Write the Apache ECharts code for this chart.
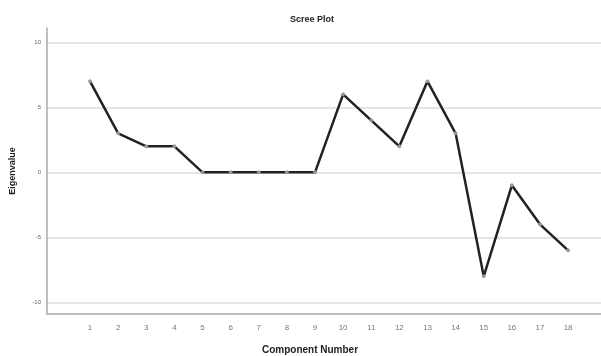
<!DOCTYPE html>
<html>
<head>
<meta charset="utf-8">
<script src="https://cdn.jsdelivr.net/npm/echarts@6/dist/echarts.min.js"></script>
<style>html,body{margin:0;padding:0;background:#fff;}#c{width:601px;height:356px;}</style>
</head>
<body>
<div id="c"></div>
<script>
const components = [1,2,3,4,5,6,7,8,9,10,11,12,13,14,15,16,17,18];
const eigenvalues = [7,3,2,2,0,0,0,0,0,6,4,2,7,3,-8,-1,-4,-6];
const yTicks = [-10,-5,0,5,10];

const chart = echarts.init(document.getElementById('c'), null, {renderer:'canvas'});
chart.setOption({
  animation: false,
  backgroundColor: '#fff',
  title: {
    text: 'Scree Plot', left: 307, top: 10, textAlign: 'center',
    textStyle: {fontFamily: 'Liberation Sans', fontSize: 9, fontWeight: 'bold', color: '#222'}
  },
  grid: {left: 47, right: 0, top: 28, bottom: 42, outerBoundsMode: 'none', containLabel: false},
  xAxis: {
    type: 'value', min: -0.53, max: 19.17,
    name: 'Component Number', nameLocation: 'middle', nameGap: 31,
    nameTextStyle: {fontFamily: 'Liberation Sans', fontSize: 10, fontWeight: 'bold', color: '#222', padding: [0, 28, 0, 0]},
    axisLine: {show: true, onZero: false, lineStyle: {color: '#aaa', width: 1.5}},
    axisTick: {show: false, customValues: components},
    axisLabel: {customValues: components, color: '#777', fontSize: 8, fontFamily: 'Liberation Sans', margin: 10},
    splitLine: {show: false}
  },
  yAxis: {
    type: 'value', min: -10.9, max: 11.1,
    name: 'Eigenvalue', nameLocation: 'middle', nameGap: 30, nameRotate: 90,
    nameTextStyle: {fontFamily: 'Liberation Sans', fontSize: 9, fontWeight: 'bold', color: '#222'},
    axisLine: {show: true, onZero: false, lineStyle: {color: '#aaa', width: 1.5}},
    axisTick: {show: false, customValues: yTicks},
    axisLabel: {customValues: yTicks, color: '#666', fontSize: 6, fontFamily: 'Liberation Sans', margin: 6},
    splitLine: {show: true, lineStyle: {color: '#ddd', width: 1.5}}
  },
  series: [{
    type: 'line',
    data: components.map((c, i) => [c, eigenvalues[i]]),
    symbol: 'circle', symbolSize: 3,
    itemStyle: {color: '#999', borderColor: '#999'},
    lineStyle: {color: '#222', width: 2.5}
  }]
});
</script>
</body>
</html>
